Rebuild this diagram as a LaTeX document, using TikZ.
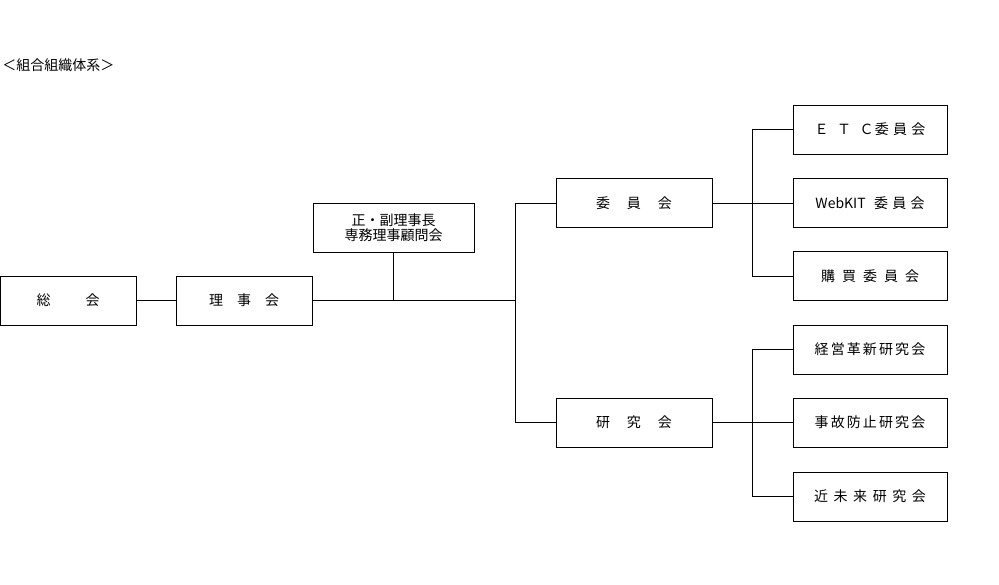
\documentclass[tikz,border=0pt]{standalone}
\usepackage{fontspec}
\setmainfont{Noto Sans CJK JP}
\usetikzlibrary{positioning}
\begin{document}
\begin{tikzpicture}[
            x = 1pt, y = -1pt,
            semithick, % line style
            font = \fontsize{14}{17}\selectfont
        ]

        \tikzstyle{org}=[
            draw,
            thick,
            minimum height = 49pt,
            align = center,
            inner sep = 1pt
        ]

        \useasboundingbox (0,0) rectangle (999,585);
        \node[anchor=west, inner sep = 2pt] (title) at (0,65) {＜組合組織体系＞};

	% LEFT SIDE
        \node[org, minimum width = 136pt] (SK) at (68,300.5) {総\hspace{2.5em}会};
        \node[org, minimum width = 136pt] (RJ) at (244,300.5) {理\hspace{1em}事\hspace{1em}会};
        \node[org, minimum width = 161pt] (YK) at (393.5,227.5) {正・副理事長\\[-2pt]専務理事顧問会};

	% MIDDLE
        \node[org, minimum width = 156pt] (IN) at (634,203) {委\hspace{1.2em}員\hspace{1.2em}会};
        \node[org, minimum width = 156pt] (KK) at (634,422.5) {研\hspace{1.2em}究\hspace{1.2em}会};

	% RIGHT SIDE
        \node[org, minimum width = 154pt] (ETC) at (870,129.5) {Ｅ\hspace{.6em}Ｔ\hspace{.6em}Ｃ\hspace{.1em}委\hspace{.3em}員\hspace{.3em}会};
        \node[org, minimum width = 154pt] (WEB) at (870,203) {WebKIT\hspace{.6em}委\hspace{.3em}員\hspace{.3em}会};
        \node[org, minimum width = 154pt] (KB) at (870,276) {購\hspace{.5em}買\hspace{.5em}委\hspace{.5em}員\hspace{.5em}会};
        \node[org, minimum width = 154pt] (KE) at (870,349.5) {経\hspace{.15em}営\hspace{.15em}革\hspace{.15em}新\hspace{.15em}研\hspace{.15em}究\hspace{.15em}会};
        \node[org, minimum width = 154pt] (JK) at (870,422.5) {事\hspace{.15em}故\hspace{.15em}防\hspace{.15em}止\hspace{.15em}研\hspace{.15em}究\hspace{.15em}会};
        \node[org, minimum width = 154pt] (KM) at (870,496.5) {近\hspace{.4em}未\hspace{.4em}来\hspace{.4em}研\hspace{.4em}究\hspace{.4em}会};

        \coordinate (J1) at (515,300.5);
        \coordinate (J2) at (752,203);
        \coordinate (J3) at (752,422.5);

        \draw (SK) -- (RJ);
        \draw (RJ) -- (J1);
        \draw (YK) -- (YK |- J1);
        \draw (J1 |- IN) -- (J1 |- KK);
        \draw (J1 |- IN) -- (IN);
        \draw (J1 |- KK) -- (KK);

        \draw (IN) -- (WEB);
        \draw (J2 |- ETC) -- (J2 |- KB);
        \draw (J2 |- ETC) -- (ETC);
        \draw (J2 |- KB) -- (KB);

        \draw (KK) -- (JK);
        \draw (J3 |- KE) -- (J3 |- KM);
        \draw (J3 |- KE) -- (KE);
        \draw (J3 |- KM) -- (KM);

  \end{tikzpicture}
\end{document}
